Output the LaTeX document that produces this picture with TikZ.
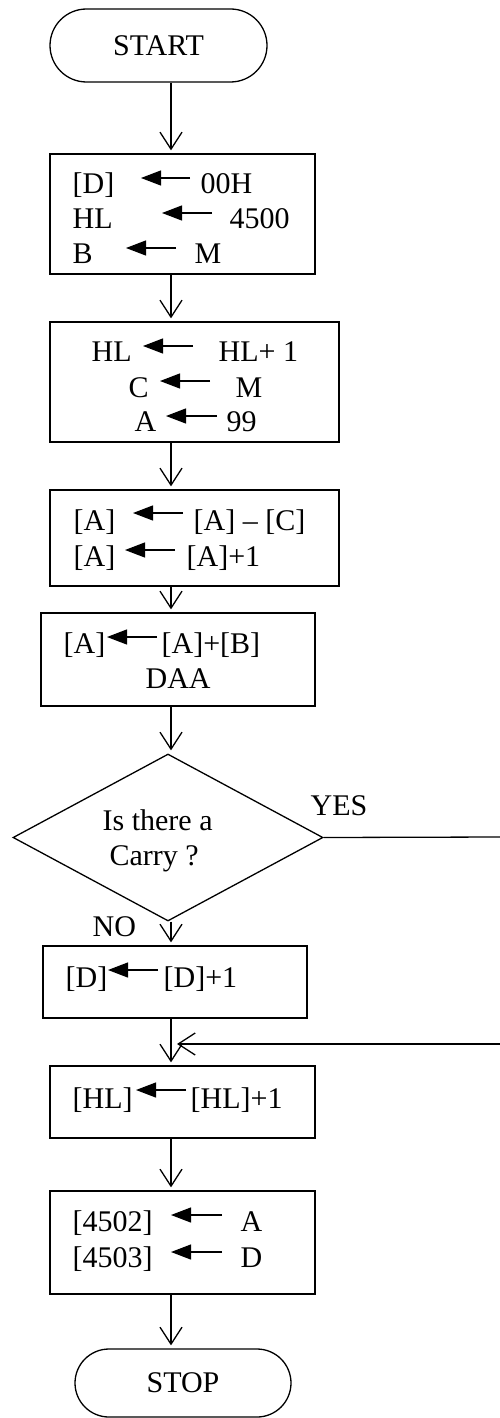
\documentclass[tikz,border=0pt]{standalone}
\usepackage{fontspec}
\setmainfont{Liberation Serif}
\usetikzlibrary{arrows.meta,shapes.geometric,shapes.misc}
\begin{document}
\begin{tikzpicture}[x=1pt,y=-1pt,line width=1.3pt,
  box/.style={draw,rectangle,inner sep=0pt},
  term/.style={draw,rounded rectangle,inner sep=0pt,font=\fontsize{30}{36}\selectfont},
  dec/.style={draw,diamond,inner sep=0pt},
  txt/.style={anchor=base west,inner sep=0pt,font=\fontsize{30}{36}\selectfont},
  arr/.style={-{Straight Barb[length=17pt,width=22pt]},shorten >=3pt},
  sarr/.style={-{Triangle[length=20pt,width=15pt]},line width=1.2pt}]
\useasboundingbox (0,0) rectangle (500,1418);
\coordinate (axis) at (171,0);
% shapes
\node[term,minimum width=217pt,minimum height=73pt] (start) at (158.5,45.5) {START};
\node[box,minimum width=265pt,minimum height=120pt] (b1) at (182.5,214) {};
\node[box,minimum width=289pt,minimum height=120pt] (b2) at (194.5,382) {};
\node[box,minimum width=289pt,minimum height=96pt] (b3) at (194.5,538) {};
\node[box,minimum width=274pt,minimum height=93pt] (b4) at (178,659.5) {};
\node[dec,minimum width=310pt,minimum height=167pt] (d) at (168,837.5) {};
\node[box,minimum width=264pt,minimum height=72pt] (b5) at (175,982) {};
\node[box,minimum width=265pt,minimum height=72pt] (b6) at (182.5,1102) {};
\node[box,minimum width=265pt,minimum height=103pt] (b7) at (182.5,1242.5) {};
\node[term,minimum width=216pt,minimum height=68pt] (stop) at (183,1383) {STOP};
% box 1
\node[txt] (t11) at (72,193) {[D]};
\node[txt] (t12) at (200,193) {00H};
\node[txt] (t13) at (72,228) {HL};
\node[txt] (t14) at (229,228) {4500};
\node[txt] (t15) at (72,263) {B};
\node[txt] (t16) at (194,263) {M};
\draw[sarr] (190,178) -- (141,178);
\draw[sarr] (212,213) -- (162,213);
\draw[sarr] (176,248) -- (126,248);
% box 2
\node[txt] (t21) at (91,361) {HL};
\node[txt] (t22) at (218,361) {HL+ 1};
\node[txt] (t23) at (128,397) {C};
\node[txt] (t24) at (235,397) {M};
\node[txt] (t25) at (134,431) {A};
\node[txt] (t26) at (226,431) {99};
\draw[sarr] (193,346) -- (143,346);
\draw[sarr] (210,381) -- (160,381);
\draw[sarr] (217,416) -- (166,416);
% box 3
\node[txt] (t31) at (73,530) {[A]};
\node[txt] (t32) at (193,530) {[A] – [C]};
\node[txt] (t33) at (73,566) {[A]};
\node[txt] (t34) at (186,566) {[A]+1};
\draw[sarr] (183,513) -- (133,513);
\draw[sarr] (175,550) -- (125,550);
% box 4
\node[txt] (t41) at (63,653) {[A]};
\node[txt] (t42) at (161,653) {[A]+[B]};
\node[txt] (t43) at (145,688) {DAA};
\draw[sarr] (157,637) -- (107,637);
% decision
\node[txt] (q1) at (102,830) {Is there a};
\node[txt] (q2) at (109,865) {Carry ?};
\node[txt] (yes) at (310,815) {YES};
\node[txt] (no) at (92,936) {NO};
% box 5
\node[txt] (t51) at (65,987) {[D]};
\node[txt] (t52) at (163,987) {[D]+1};
\draw[sarr] (158,970) -- (108,970);
% box 6
\node[txt] (t61) at (72,1108) {[HL]};
\node[txt] (t62) at (190,1108) {[HL]+1};
\draw[sarr] (186,1090) -- (136,1090);
% box 7
\node[txt] (t71) at (72,1231) {[4502]};
\node[txt] (t72) at (240,1231) {A};
\node[txt] (t73) at (72,1267) {[4503]};
\node[txt] (t74) at (240,1267) {D};
\draw[sarr] (222,1215) -- (171,1215);
\draw[sarr] (222,1252) -- (171,1252);
% connectors
\draw[arr] (start.south -| axis) -- (b1.north -| axis);
\draw[arr] (b1.south -| axis) -- (b2.north -| axis);
\draw[arr] (b2.south -| axis) -- (b3.north -| axis);
\draw[arr] (b3.south -| axis) -- (b4.north -| axis);
\draw[arr] (b4.south -| axis) -- (d.north -| axis);
\draw[arr] (d.south -| axis) -- (b5.north -| axis);
\draw[arr] (b5.south -| axis) -- (b6.north -| axis);
\draw[arr] (b6.south -| axis) -- (b7.north -| axis);
\draw[arr] (b7.south -| axis) -- (stop.north -| axis);
\coordinate (yesR) at (500,837);
\coordinate (retR) at (500,1044);
\coordinate (join) at (177,1044);
\draw (d.east) -- (yesR);
\draw[-{Straight Barb[length=17pt,width=22pt]}] (retR) -- (join);
\end{tikzpicture}
\end{document}
